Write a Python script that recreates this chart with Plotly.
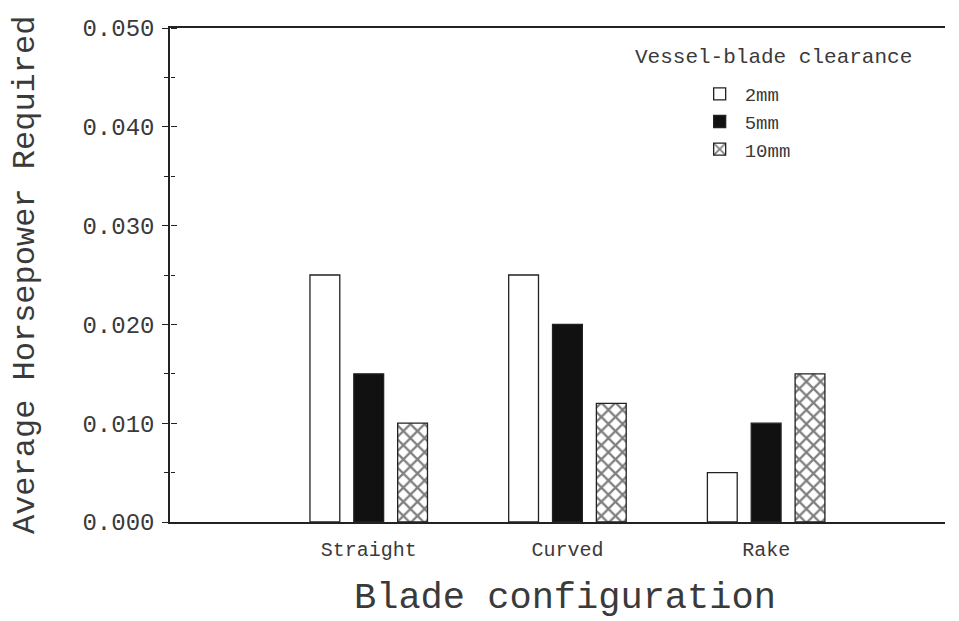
import plotly.graph_objects as go

categories = ["Straight", "Curved", "Rake"]
cat_pos = [1, 2, 3]
series_names = ["2mm", "5mm", "10mm"]
hp_2mm = [0.025, 0.025, 0.005]
hp_5mm = [0.015, 0.020, 0.010]
hp_10mm = [0.010, 0.012, 0.015]
y_ticks = [0.0, 0.01, 0.02, 0.03, 0.04, 0.05]
y_ticktext = ["0.000", "0.010", "0.020", "0.030", "0.040", "0.050"]

FONT = "Liberation Mono"
TXT = "#3a3a3a"
LINE = "#222222"

fig = go.Figure()
styles = [
    dict(color="white", pattern=None),
    dict(color="#111111", pattern=None),
    dict(color="white", pattern=dict(shape="x", size=10, solidity=0.4, fgcolor="#000000", bgcolor="white", fillmode="overlay")),
]
for name, vals, st in zip(series_names, [hp_2mm, hp_5mm, hp_10mm], styles):
    marker = dict(color=st["color"], line=dict(color=LINE, width=1.3))
    if st["pattern"]:
        marker["pattern"] = st["pattern"]
    fig.add_trace(go.Bar(x=cat_pos, y=vals, name=name, marker=marker))

# invisible helper trace so the overlaid axis (inner half of crossing ticks) is drawn
fig.add_trace(go.Scatter(x=cat_pos, y=hp_2mm, yaxis="y2", mode="markers",
                         marker=dict(opacity=0, size=1), showlegend=False, hoverinfo="skip"))

# page body adds ~8px offset; compensate so plot area sits at x 170-945, y 28-522
fig.update_layout(
    width=951, height=613,
    margin=dict(l=162, r=14, t=20, b=99, autoexpand=False),
    paper_bgcolor="white", plot_bgcolor="rgba(0,0,0,0)",
    barmode="group", bargap=0.338, bargroupgap=0.32,
    font=dict(family=FONT, color=TXT),
    showlegend=True,
    legend=dict(
        x=0.677, y=0.905, xanchor="left", yanchor="top",
        font=dict(family=FONT, size=19, color=TXT),
        bgcolor="rgba(0,0,0,0)", itemwidth=40, tracegroupgap=0,
    ),
    annotations=[
        dict(text="Vessel-blade clearance", xref="paper", yref="paper",
             x=0.597, y=0.94, xanchor="left", yanchor="middle", showarrow=False,
             font=dict(family=FONT, size=21, color=TXT)),
        dict(text="Blade configuration", xref="paper", yref="paper",
             x=0.51, y=-0.154, xanchor="center", yanchor="middle", showarrow=False,
             font=dict(family=FONT, size=37, color=TXT)),
        dict(text="Average Horsepower Required", xref="paper", yref="paper",
             x=-0.187, y=0.5, xanchor="center", yanchor="middle", showarrow=False,
             textangle=-90, font=dict(family=FONT, size=32, color=TXT)),
    ],
)
fig.update_xaxes(
    range=[0, 3.9], tickvals=cat_pos, ticktext=categories,
    showline=True, linecolor=LINE, linewidth=1.5, mirror=True,
    ticks="", showgrid=False, zeroline=False, automargin=False,
    tickfont=dict(family=FONT, size=20, color=TXT), ticklabelstandoff=8,
)
fig.update_layout(
    yaxis=dict(
        range=[0, 0.05], tickvals=y_ticks, ticktext=y_ticktext,
        showline=True, linecolor=LINE, linewidth=1.5, mirror=False,
        ticks="outside", ticklen=6, tickcolor=LINE, tickwidth=1.2,
        minor=dict(dtick=0.005, ticks="outside", ticklen=4, tickcolor=LINE, tickwidth=1.2),
        showgrid=False, zeroline=False, automargin=False,
        tickfont=dict(family=FONT, size=24, color=TXT), ticklabelstandoff=3,
    ),
    yaxis2=dict(
        overlaying="y", anchor="free", position=0, side="right", range=[0, 0.05],
        tickvals=y_ticks, showticklabels=False, ticks="outside", ticklen=6, tickcolor=LINE, tickwidth=1.2,
        minor=dict(dtick=0.005, ticks="outside", ticklen=4, tickcolor=LINE, tickwidth=1.2),
        showgrid=False, zeroline=False, showline=False, automargin=False,
    ),
)
fig.write_html("out.html")
